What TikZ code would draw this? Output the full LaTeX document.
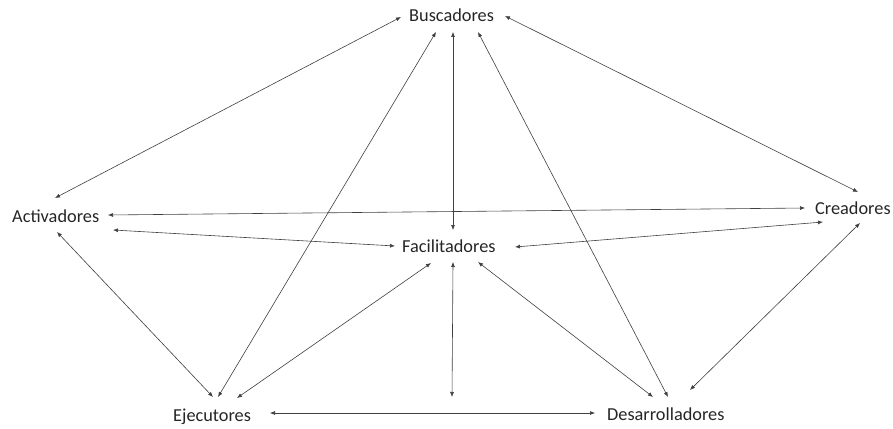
\documentclass[tikz,border=0pt]{standalone}
\usepackage{fontspec}
\setmainfont{Carlito}
\usetikzlibrary{arrows.meta}
\definecolor{txt}{HTML}{262626}
\definecolor{ln}{HTML}{404040}
\begin{document}
\begin{tikzpicture}[x=1pt,y=-1pt,
  lbl/.style={anchor=base west,inner sep=0pt,text=txt,font=\fontsize{18.3}{22}\selectfont},
  link/.style={draw=ln,line width=0.6pt,{Latex[length=5pt,width=4pt]}-{Latex[length=5pt,width=4pt]}}]
\useasboundingbox[fill=white] (0,0) rectangle (893,428);
\node[lbl] (bus) at (409,22) {Buscadores};
\node[lbl] (act) at (12,222) {Activadores};
\node[lbl] (cre) at (815,214) {Creadores};
\node[lbl] (fac) at (402,252) {Facilitadores};
\node[lbl] (eje) at (173,421) {Ejecutores};
\node[lbl] (des) at (607,420) {Desarrolladores};
\coordinate (fd) at (452,397);
\draw[link] ([shift={(-8,-5)}]bus.base west) -- ([shift={(43,-24)}]act.base west);
\draw[link] ([shift={(96,-6)}]bus.base west) -- ([shift={(43,-22)}]cre.base west);
\draw[link] ([shift={(44,10)}]bus.base west) -- ([shift={(51,-22)}]fac.base west);
\draw[link] ([shift={(27,10)}]bus.base west) -- ([shift={(45,-24)}]eje.base west);
\draw[link] ([shift={(69,10)}]bus.base west) -- ([shift={(61,-23)}]des.base west);
\draw[link] ([shift={(96,-7)}]act.base west) -- ([shift={(-10,-6)}]cre.base west);
\draw[link] ([shift={(101,8)}]act.base west) -- ([shift={(-7,-6)}]fac.base west);
\draw[link] ([shift={(8,8)}]cre.base west) -- ([shift={(113,-5)}]fac.base west);
\draw[link] ([shift={(45,10)}]act.base west) -- ([shift={(40,-24)}]eje.base west);
\draw[link] ([shift={(45,9)}]cre.base west) -- ([shift={(83,-30)}]des.base west);
\draw[link] ([shift={(29,11)}]fac.base west) -- ([shift={(64,-23)}]eje.base west);
\draw[link] ([shift={(76,10)}]fac.base west) -- ([shift={(46,-23)}]des.base west);
\draw[link] ([shift={(51,10)}]fac.base west) -- (fd);
\draw[link] ([shift={(97,-8)}]eje.base west) -- ([shift={(-12,-7)}]des.base west);
\end{tikzpicture}
\end{document}
